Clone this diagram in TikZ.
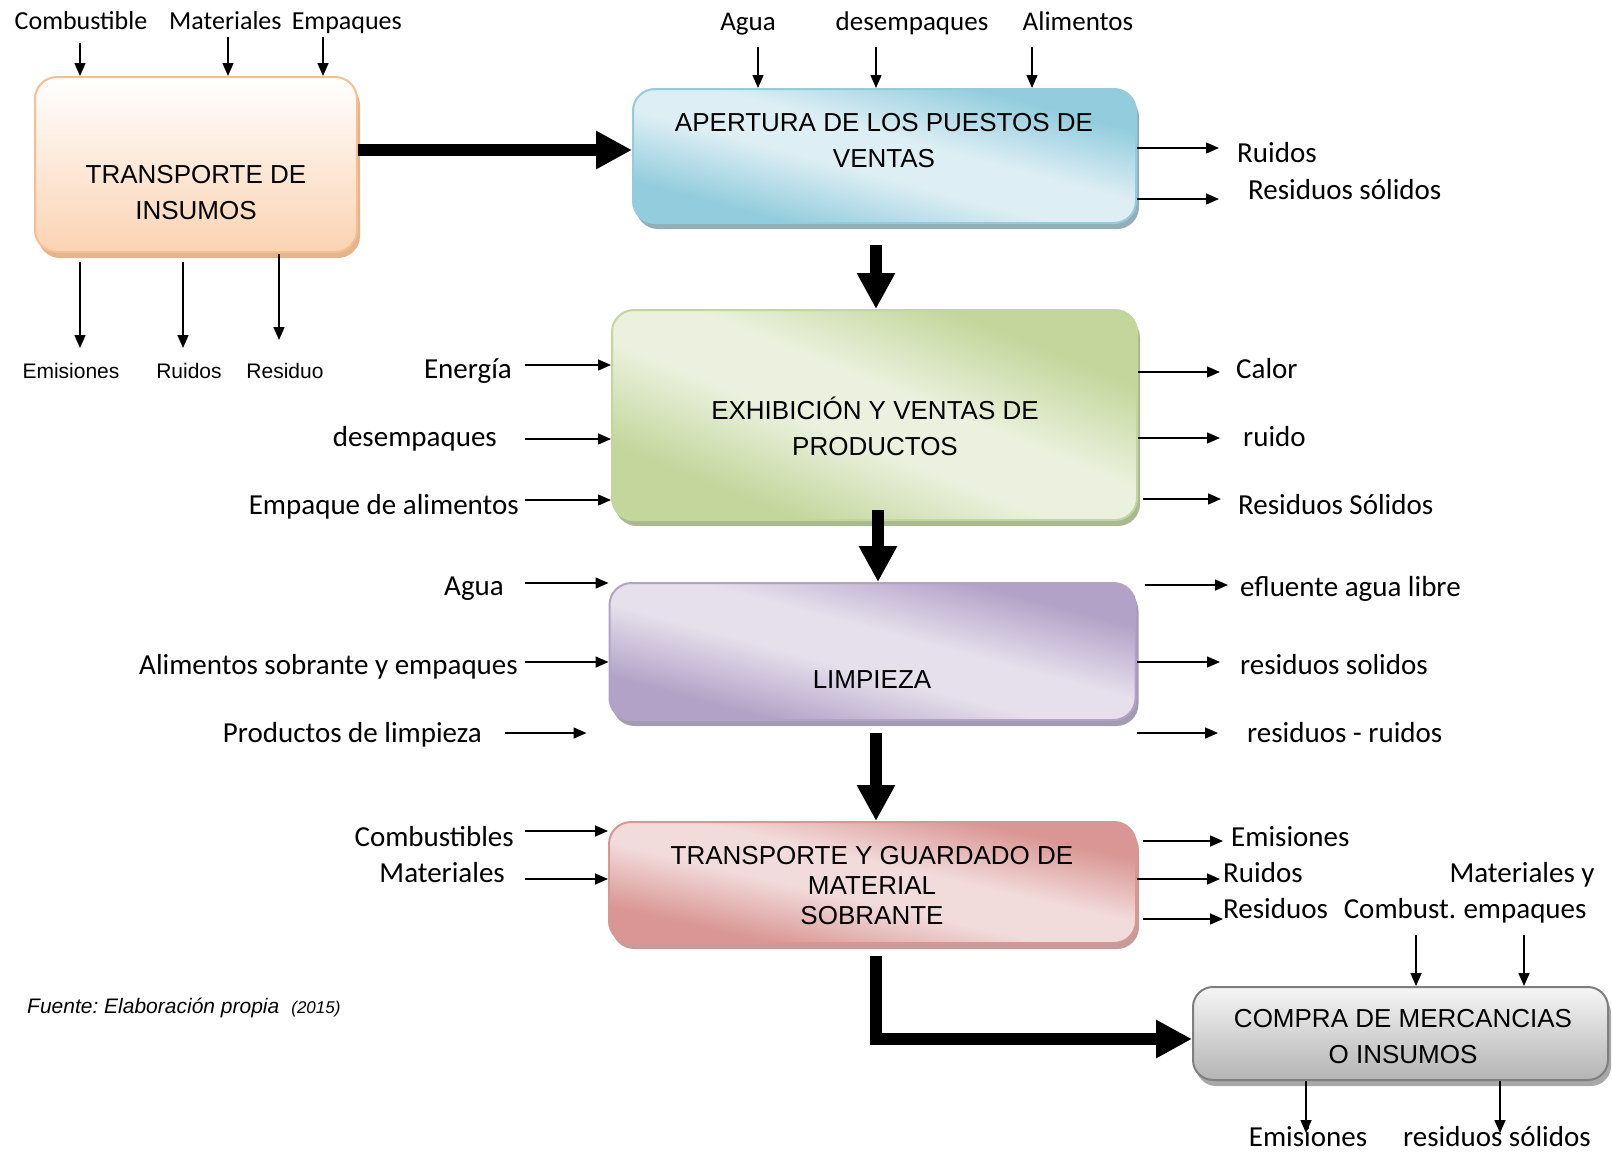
\documentclass[tikz,border=0pt]{standalone}
\usepackage{fontspec}
\setmainfont{Carlito}
\newfontfamily\arialf{Liberation Sans}
\usetikzlibrary{arrows.meta,shadows}
\frenchspacing
\definecolor{bandD}{HTML}{FFFFFF}
\definecolor{bandL}{HTML}{FFFFFF}
\pgfdeclareverticalshading[bandD,bandL]{bandshade}{100bp}{color(0bp)=(bandD); color(29bp)=(bandD); color(45bp)=(bandL); color(55bp)=(bandL); color(71bp)=(bandD); color(100bp)=(bandD)}
\definecolor{orB}{HTML}{F9BE8F}
\definecolor{orF}{HTML}{FBD3B2}
\definecolor{orS}{HTML}{E2B58F}
\definecolor{blB}{HTML}{93CDDD}
\definecolor{blD}{HTML}{93CDDD}
\definecolor{blL}{HTML}{DDEEF4}
\definecolor{blS}{HTML}{95AEB6}
\definecolor{grB}{HTML}{C3D69B}
\definecolor{grD}{HTML}{C3D69B}
\definecolor{grL}{HTML}{EBF1DE}
\definecolor{grS}{HTML}{AAB893}
\definecolor{puB}{HTML}{B3A2C7}
\definecolor{puD}{HTML}{B3A2C7}
\definecolor{puL}{HTML}{E5E0EC}
\definecolor{puS}{HTML}{A49CAE}
\definecolor{reB}{HTML}{D99694}
\definecolor{reD}{HTML}{D99694}
\definecolor{reL}{HTML}{F2DCDB}
\definecolor{reS}{HTML}{C69C9B}
\definecolor{gyB}{HTML}{7F7F7F}
\definecolor{gyT}{HTML}{F5F5F5}
\definecolor{gyF}{HTML}{B4B4B4}
\definecolor{gyS}{HTML}{A8A8A8}
\tikzset{
  procbox/.style={rectangle, rounded corners=22pt, line width=2pt, inner sep=0pt,
    drop shadow={shadow xshift=3pt, shadow yshift=-6pt, fill=#1, opacity=1}},
  bandfill/.style n args={3}{/utils/exec={\colorlet{bandD}{#1}\colorlet{bandL}{#2}},
    shading=bandshade, shading angle=#3},
  boxtxt/.style={font=\arialf\fontsize{26}{36}\selectfont, align=center, inner sep=0pt},
  lbl/.style={font=\fontsize{29}{33}\selectfont, inner sep=0pt, text height=19pt, text depth=0pt},
  lbltop/.style={font=\fontsize{27}{31}\selectfont, inner sep=0pt, text height=17.5pt, text depth=0pt},
  lblone/.style={font=\fontsize{26}{30}\selectfont, inner sep=0pt, text height=17pt, text depth=0pt},
  lblar/.style={font=\arialf\fontsize{21}{25}\selectfont, inner sep=0pt, text height=15pt, text depth=0pt},
  sarrow/.style={line width=1.5pt, -{Triangle[length=13pt,width=11pt]}},
  bigarrow/.style={line width=12pt, -{Triangle[length=36pt,width=36pt]}},
}
\begin{document}
\begin{tikzpicture}[x=1pt,y=-1pt]
\useasboundingbox (0,0) rectangle (1612,1154);
\fill[white] (0,0) rectangle (1612,1154);

% ---- process boxes ----
\node[procbox=orS, draw=orB, top color=white, bottom color=orF,
      minimum width=322pt, minimum height=175pt] (b1) at (196,164.5) {};
\node[procbox=blS, draw=blB, bandfill={blD}{blL}{-15},
      minimum width=503pt, minimum height=134pt] (b2) at (884.5,156) {};
\node[procbox=grS, draw=grB, bandfill={grD}{grL}{-22},
      minimum width=525pt, minimum height=210pt] (b3) at (874.5,415) {};
\node[procbox=puS, draw=puB, bandfill={puD}{puL}{-15},
      minimum width=526pt, minimum height=137pt] (b4) at (872.5,651.5) {};
\node[procbox=reS, draw=reB, bandfill={reD}{reL}{-13},
      minimum width=527pt, minimum height=121pt] (b5) at (872.5,882.5) {};
\node[procbox=gyS, draw=gyB, top color=gyT, bottom color=gyF, rounded corners=20pt,
      minimum width=415pt, minimum height=93pt] (b6) at (1400.5,1033.5) {};

% ---- box texts ----
\node[boxtxt] (t1) at (196,193) {TRANSPORTE DE\\INSUMOS};
\node[boxtxt] (t2) at (884,140.5) {APERTURA DE LOS PUESTOS DE\\VENTAS};
\node[boxtxt] (t3) at (875,426.5) {EXHIBICIÓN Y VENTAS DE\\PRODUCTOS};
\node[boxtxt] (t4) at (872,680) {LIMPIEZA};
\node[boxtxt, font=\arialf\fontsize{26}{30}\selectfont] (t5) at (872,886) {TRANSPORTE Y GUARDADO DE\\MATERIAL\\SOBRANTE};
\node[boxtxt] (t6) at (1403,1037) {COMPRA DE MERCANCIAS\\O INSUMOS};

% ---- thick flow arrows ----
\coordinate (m12) at (0,150);
\draw[bigarrow] (b1.east |- m12) -- (b2.west |- m12);
\coordinate (k1) at (876,245);
\draw[bigarrow] (k1) -- (k1 |- b3.north);
\coordinate (k2) at (878,510);
\draw[bigarrow] (k2) -- (k2 |- b4.north);
\coordinate (k3) at (876,733);
\draw[bigarrow] (k3) -- (k3 |- b5.north);
\coordinate (k4) at (876,956);
\coordinate (m56) at (0,1039);
\draw[bigarrow] (k4) |- (b6.west |- m56);

% ---- box 1 ----
\node[lblone] (l1a) at (81,21) {Combustible};
\node[lblone, anchor=west] (l1b) at (169,21) {Materiales};
\node[lblone, anchor=east] (l1c) at (402,21) {Empaques};
\coordinate (a1) at (80,43);
\coordinate (a2) at (228,37);
\coordinate (a3) at (323,37);
\draw[sarrow] (a1) -- (a1 |- b1.north);
\draw[sarrow] (a2) -- (a2 |- b1.north);
\draw[sarrow] (a3) -- (a3 |- b1.north);
\node[lblar] (l1d) at (71,371) {Emisiones};
\node[lblar] (l1e) at (189,371) {Ruidos};
\node[lblar] (l1f) at (285,371) {Residuo};
\coordinate (d1) at (80,348);
\coordinate (d2) at (183,348);
\coordinate (d3) at (279,340);
\draw[sarrow, shorten <=9pt] (b1.south -| d1) -- (d1);
\draw[sarrow, shorten <=9pt] (b1.south -| d2) -- (d2);
\draw[sarrow, shorten <=1pt] (b1.south -| d3) -- (d3);

% ---- box 2 ----
\node[lbltop] (l2a) at (748,22) {Agua};
\node[lbltop] (l2b) at (912,22) {desempaques};
\node[lbltop] (l2c) at (1078,22) {Alimentos};
\coordinate (a4) at (758,47);
\coordinate (a5) at (876,47);
\coordinate (a6) at (1032,47);
\draw[sarrow] (a4) -- (a4 |- b2.north);
\draw[sarrow] (a5) -- (a5 |- b2.north);
\draw[sarrow] (a6) -- (a6 |- b2.north);
\coordinate (r1) at (1219,148);
\coordinate (r2) at (1219,199);
\draw[sarrow] (b2.east |- r1) -- (r1);
\draw[sarrow] (b2.east |- r2) -- (r2);
\node[lbl, anchor=west] (l2d) at (1237,153) {Ruidos};
\node[lbl, anchor=west] (l2e) at (1248,190) {Residuos sólidos};

% ---- box 3 ----
\node[lbl, anchor=east] (l3a) at (512,369) {Energía};
\node[lbl, anchor=east] (l3b) at (497,437) {desempaques};
\node[lbl, anchor=east] (l3c) at (519,505) {Empaque de alimentos};
\coordinate (e1) at (525,365);
\coordinate (e2) at (525,439);
\coordinate (e3) at (525,500);
\draw[sarrow] (e1) -- (e1 -| b3.west);
\draw[sarrow] (e2) -- (e2 -| b3.west);
\draw[sarrow] (e3) -- (e3 -| b3.west);
\coordinate (h1) at (1220,372);
\coordinate (h2) at (1220,438);
\coordinate (h3) at (1221,499);
\draw[sarrow] (b3.east |- h1) -- (h1);
\draw[sarrow] (b3.east |- h2) -- (h2);
\draw[sarrow, shorten <=5pt] (b3.east |- h3) -- (h3);
\node[lbl, anchor=west] (l3d) at (1236,369) {Calor};
\node[lbl, anchor=west] (l3e) at (1243,437) {ruido};
\node[lbl, anchor=west] (l3f) at (1238,505) {Residuos Sólidos};

% ---- box 4 ----
\node[lbl, anchor=east] (l4a) at (504,586) {Agua};
\node[lbl, anchor=east] (l4b) at (518,665) {Alimentos sobrante y empaques};
\node[lbl, anchor=east] (l4c) at (482,733) {Productos de limpieza};
\coordinate (e4) at (525,583);
\coordinate (e5) at (525,662);
\coordinate (e6) at (505,733);
\draw[sarrow] (e4) -- (e4 -| b4.west);
\draw[sarrow] (e5) -- (e5 -| b4.west);
\draw[sarrow, shorten >=22pt] (e6) -- (e6 -| b4.west);
\coordinate (h4) at (1228,585);
\coordinate (h5) at (1220,662);
\coordinate (h6) at (1218,733);
\draw[sarrow, shorten <=8pt] (b4.east |- h4) -- (h4);
\draw[sarrow] (b4.east |- h5) -- (h5);
\draw[sarrow] (b4.east |- h6) -- (h6);
\node[lbl, anchor=west] (l4d) at (1240,587) {efluente agua libre};
\node[lbl, anchor=west] (l4e) at (1240,665) {residuos solidos};
\node[lbl, anchor=west] (l4f) at (1247,733) {residuos - ruidos};

% ---- box 5 ----
\node[lbl, anchor=east] (l5a) at (514,837) {Combustibles};
\node[lbl, anchor=east] (l5b) at (505,873) {Materiales};
\coordinate (e7) at (525,831);
\coordinate (e8) at (525,879);
\draw[sarrow] (e7) -- (e7 -| b5.west);
\draw[sarrow] (e8) -- (e8 -| b5.west);
\coordinate (h7) at (1223,841);
\coordinate (h8) at (1220,879);
\coordinate (h9) at (1223,919);
\draw[sarrow, shorten <=6pt] (b5.east |- h7) -- (h7);
\draw[sarrow] (b5.east |- h8) -- (h8);
\draw[sarrow, shorten <=6pt] (b5.east |- h9) -- (h9);
\node[lbl, anchor=west] (l5c) at (1231,837) {Emisiones};
\node[lbl, anchor=west] (l5d) at (1223,873) {Ruidos};
\node[lbl, anchor=west] (l5e) at (1223,909) {Residuos};

% ---- box 6 ----
\node[lbl] (l6a) at (1522,873) {Materiales y};
\node[lbl] (l6b) at (1400,909) {Combust.};
\node[lbl] (l6c) at (1525,909) {empaques};
\coordinate (a7) at (1416,935);
\coordinate (a8) at (1524,935);
\draw[sarrow] (a7) -- (a7 |- b6.north);
\draw[sarrow] (a8) -- (a8 |- b6.north);
\node[lbl] (l6d) at (1308,1137) {Emisiones};
\node[lbl] (l6e) at (1497,1137) {residuos sólidos};
\coordinate (d4) at (1306,1133);
\coordinate (d5) at (1500,1133);
\draw[sarrow] (b6.south -| d4) -- (d4);
\draw[sarrow] (b6.south -| d5) -- (d5);

% ---- source ----
\node[anchor=west, font=\arialf\itshape\fontsize{21}{25}\selectfont, inner sep=0pt,
      text height=15pt, text depth=0pt] (src) at (27,1006)
      {Fuente: Elaboración propia\hspace{12pt}{\fontsize{17}{20}\selectfont(2015)}};
\end{tikzpicture}
\end{document}
